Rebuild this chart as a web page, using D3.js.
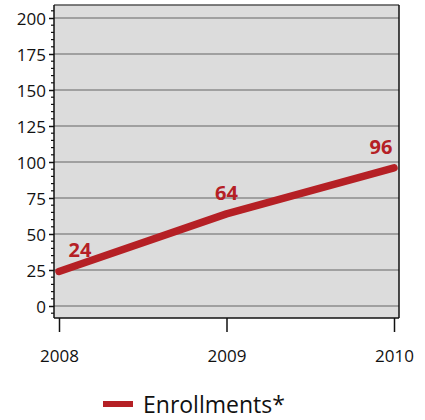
<!DOCTYPE html>
<html>
<head>
<meta charset="utf-8">
<script src="https://cdn.jsdelivr.net/npm/d3@7"></script>
<style>
  body { margin: 0; background: #fff; }
  text { font-family: "Open Sans", "Noto Sans", sans-serif; }
</style>
</head>
<body>
<div class="chart"></div>
<script>
var w = 425;
var h = 420;

var years = [2008, 2009, 2010];
var enrollments = [24, 64, 96];
var yTicks = [0, 25, 50, 75, 100, 125, 150, 175, 200];
var seriesName = "Enrollments*";

var plotLeft = 54, plotRight = 399, plotTop = 5, plotBottom = 318;
var red = "#b52025";

var svg = d3.select(".chart").append("svg")
            .attr("width", w)
            .attr("height", h);

var xScale = d3.scaleLinear()
               .domain([2008, 2010])
               .range([59, 394]);

var yScale = d3.scaleLinear()
               .domain([0, 200])
               .range([306, 18]);

// plot background
svg.append("rect")
   .attr("x", plotLeft)
   .attr("y", plotTop)
   .attr("width", plotRight - plotLeft)
   .attr("height", plotBottom - plotTop)
   .attr("fill", "#dcdcdc");

// gridlines
svg.selectAll(".grid")
   .data(yTicks)
   .enter()
   .append("line")
   .attr("x1", plotLeft)
   .attr("x2", plotRight)
   .attr("y1", function(d) { return yScale(d); })
   .attr("y2", function(d) { return yScale(d); })
   .attr("stroke", "#8c8c8c")
   .attr("stroke-width", 1.5);

// border: top light, right dark
svg.append("line")
   .attr("x1", plotLeft).attr("x2", plotRight)
   .attr("y1", plotTop).attr("y2", plotTop)
   .attr("stroke", "#555").attr("stroke-width", 1.5);
svg.append("line")
   .attr("x1", plotRight).attr("x2", plotRight)
   .attr("y1", plotTop).attr("y2", plotBottom)
   .attr("stroke", "#111").attr("stroke-width", 1.5);

// minor y ticks
var minor = d3.range(-5, 206, 5).filter(function(d) { return d % 25 != 0; });
svg.selectAll(".minor")
   .data(minor)
   .enter()
   .append("line")
   .attr("x1", plotLeft - 3)
   .attr("x2", plotLeft)
   .attr("y1", function(d) { return yScale(d); })
   .attr("y2", function(d) { return yScale(d); })
   .attr("stroke", "#111")
   .attr("stroke-width", 1.2);

// y axis
var yAxis = d3.axisLeft(yScale)
              .tickValues(yTicks)
              .tickSize(5)
              .tickPadding(3);
var gy = svg.append("g")
   .attr("transform", "translate(" + plotLeft + ",0)")
   .call(yAxis);
gy.select(".domain").remove();
gy.selectAll(".tick line").attr("stroke", "#111").attr("stroke-width", 1.5);
gy.selectAll("text").style("font-size", "17px").attr("fill", "#111").attr("dy", "0.36em");
svg.append("line")
   .attr("x1", plotLeft).attr("x2", plotLeft)
   .attr("y1", plotTop).attr("y2", plotBottom)
   .attr("stroke", "#111").attr("stroke-width", 1.5);

// x axis
svg.append("line")
   .attr("x1", plotLeft).attr("x2", plotRight)
   .attr("y1", plotBottom).attr("y2", plotBottom)
   .attr("stroke", "#111").attr("stroke-width", 1.5);
var xAxis = d3.axisBottom(xScale)
              .tickValues(years)
              .tickFormat(d3.format("d"))
              .tickSize(14)
              .tickPadding(14);
var gx = svg.append("g")
   .attr("transform", "translate(0," + plotBottom + ")")
   .call(xAxis);
gx.select(".domain").remove();
gx.selectAll(".tick line").attr("stroke", "#111").attr("stroke-width", 1.5);
gx.selectAll("text")
  .style("font-size", "17px")
  .attr("fill", "#111")
  .attr("dy", null)
  .attr("y", 44);

// data line
var data = years.map(function(d, i) { return {year: d, value: enrollments[i]}; });
var line = d3.line()
             .x(function(d) { return xScale(d.year); })
             .y(function(d) { return yScale(d.value); });
svg.append("path")
   .datum(data)
   .attr("d", line)
   .attr("fill", "none")
   .attr("stroke", red)
   .attr("stroke-width", 7.5)
   .attr("stroke-linecap", "round")
   .attr("stroke-linejoin", "round");

// value labels
var labelShift = [21, 0, -13];
svg.selectAll(".valLabel")
   .data(data)
   .enter()
   .append("text")
   .attr("x", function(d, i) { return xScale(d.year) + labelShift[i]; })
   .attr("y", function(d) { return yScale(d.value) - 14; })
   .attr("text-anchor", "middle")
   .attr("fill", red)
   .style("font-size", "20px")
   .style("font-weight", "bold")
   .text(function(d) { return d.value; });

// legend
svg.append("line")
   .attr("x1", 103).attr("x2", 133)
   .attr("y1", 404).attr("y2", 404)
   .attr("stroke", red)
   .attr("stroke-width", 6);
svg.append("text")
   .attr("x", 143)
   .attr("y", 413)
   .attr("fill", "#111")
   .style("font-size", "23px")
   .text(seriesName);
</script>
</body>
</html>
